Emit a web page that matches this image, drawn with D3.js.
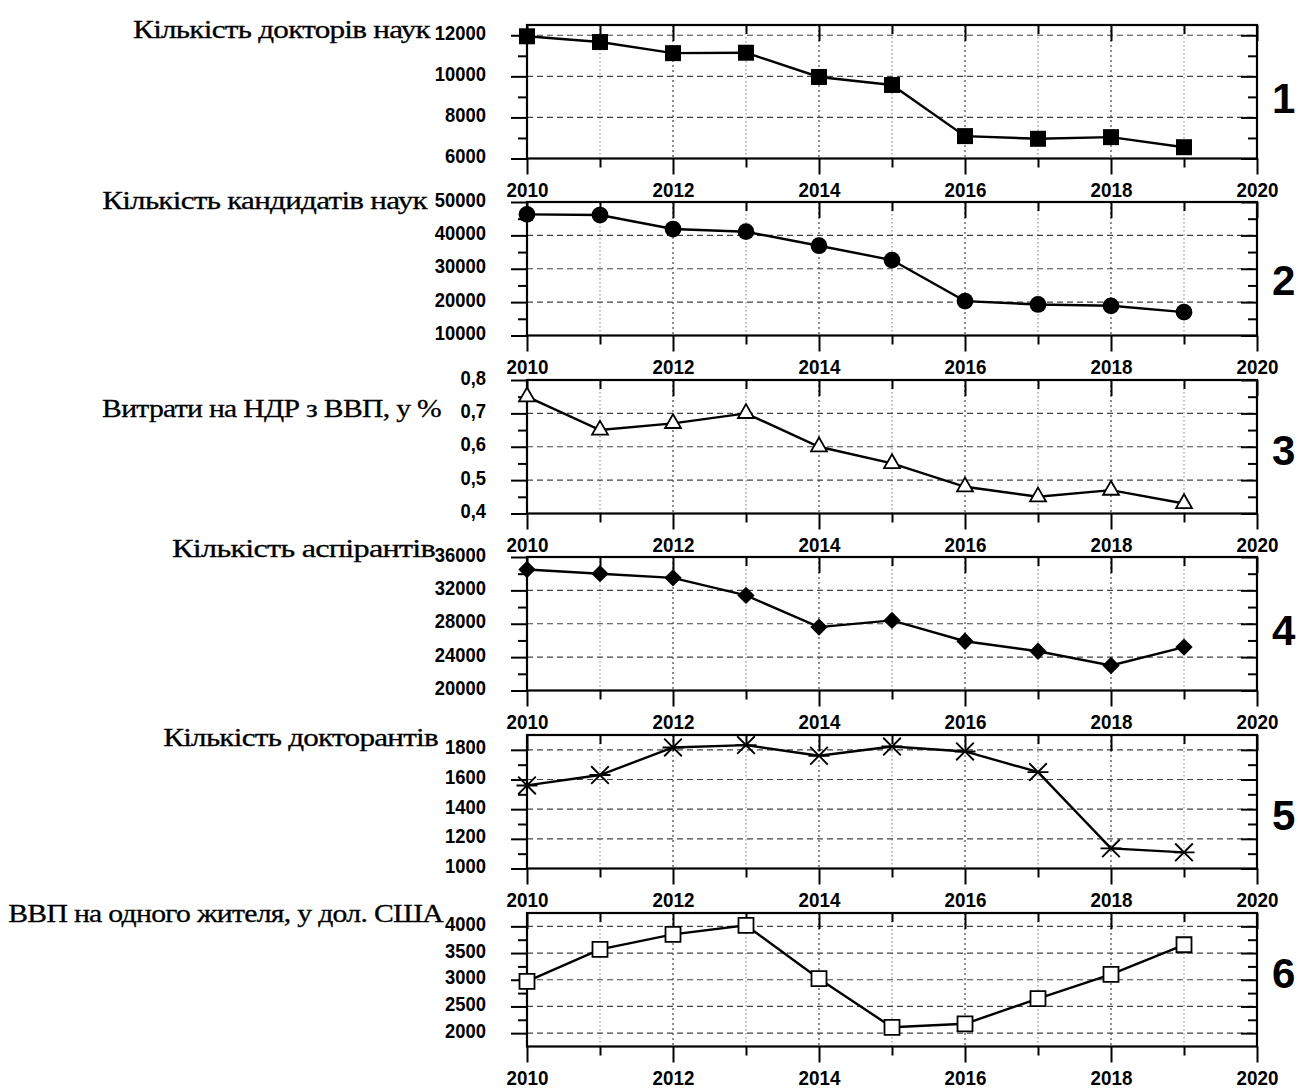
<!DOCTYPE html>
<html><head><meta charset="utf-8">
<script src="https://cdn.jsdelivr.net/npm/d3@7/dist/d3.min.js"></script>
<style>body{margin:0;background:#fff} svg{display:block;background:#fff}</style>
</head><body><svg id="c" width="1298" height="1088"></svg>
<script>
// ---------- data ----------
const years = [2010, 2011, 2012, 2013, 2014, 2015, 2016, 2017, 2018, 2019];
const doctors       = [11950, 11670, 11130, 11150, 9970, 9580, 7090, 6960, 7040, 6550];
const candidates    = [46300, 46100, 41900, 41100, 36900, 32600, 20300, 19300, 18900, 17000];
const rdShare       = [0.75, 0.65, 0.67, 0.70, 0.60, 0.55, 0.48, 0.45, 0.47, 0.43];
const postgrads     = [34500, 34000, 33500, 31400, 27600, 28400, 25900, 24700, 23000, 25200];
const doctoralStud  = [1560, 1630, 1816, 1832, 1760, 1822, 1789, 1650, 1136, 1109];
const gdpPerCapita  = [2970, 3570, 3850, 4020, 3020, 2110, 2175, 2645, 3100, 3655];

const xTickLabels = [2010, 2012, 2014, 2016, 2018, 2020];
const xMinorTicks = [2011, 2013, 2015, 2017, 2019];
const xDomain = [2010, 2020];

const titles = [
  "Кількість докторів наук",
  "Кількість кандидатів наук",
  "Витрати на НДР з ВВП, у %",
  "Кількість аспірантів",
  "Кількість докторантів",
  "ВВП на одного жителя, у дол. США"
];
const panelNumbers = ["1", "2", "3", "4", "5", "6"];
const seriesValues = [doctors, candidates, rdShare, postgrads, doctoralStud, gdpPerCapita];
const yDomains = [[6000, 12500], [10000, 50000], [0.4, 0.8], [20000, 36000], [1000, 1900], [1750, 4250]];
const yMajorTicks = [
  [6000, 8000, 10000, 12000],
  [10000, 20000, 30000, 40000, 50000],
  [0.4, 0.5, 0.6, 0.7, 0.8],
  [20000, 24000, 28000, 32000, 36000],
  [1000, 1200, 1400, 1600, 1800],
  [2000, 2500, 3000, 3500, 4000]
];
const yMinorTicks = [
  [7000, 9000, 11000],
  [15000, 25000, 35000, 45000],
  [0.45, 0.55, 0.65, 0.75],
  [22000, 26000, 30000, 34000],
  [1100, 1300, 1500, 1700],
  [2250, 2750, 3250, 3750]
];
const markerKinds = ["square", "circle", "triangle", "diamond", "asterisk", "openSquare"];

// ---------- layout ----------
const plotLeft = 527, plotRight = 1257, panelH = 133.5;
const panelTops = [25, 202, 380, 557, 735, 913];
const titleStart = [133, 102, 102, 172, 163, 8];
const titleEnd = [430, 427, 441, 435, 438, 443];
const titleBase = [38, 209, 417, 557, 746, 922];
const numBase = [113, 295, 465, 645, 830, 988];
const MAJ = 16, MIN = 9;
const tickFont = "'Liberation Sans', Arial, sans-serif";

const svg = d3.select("#c");
svg.append("rect").attr("width", 1298).attr("height", 1088).attr("fill", "#fff");

const x = d3.scaleLinear().domain(xDomain).range([plotLeft, plotRight]);

function fmt(v) {
  if (v < 1) return d3.format(".1f")(v).replace(".", ",");
  return String(v);
}

function asteriskPath(s) {
  const h = s / 2, d = s * 0.42;
  return `M${-h},0L${h},0M${-d},${-d}L${d},${d}M${-d},${d}L${d},${-d}`;
}

function squeeze(sel, k) {
  sel.each(function () {
    const len = this.getComputedTextLength();
    d3.select(this).attr("textLength", len * k).attr("lengthAdjust", "spacingAndGlyphs");
  });
}

seriesValues.forEach((vals, i) => {
  const top = panelTops[i], bottom = top + panelH;
  const y = d3.scaleLinear().domain(yDomains[i]).range([bottom, top]);
  const g = svg.append("g");

  // grid: vertical dotted at every year
  const gridYears = d3.range(xDomain[0] + 1, xDomain[1]);
  g.selectAll(".vg").data(gridYears).join("line")
    .attr("x1", d => x(d)).attr("x2", d => x(d))
    .attr("y1", top).attr("y2", bottom)
    .attr("stroke", d => d % 2 === 0 ? "#333" : "#888")
    .attr("stroke-width", 1.1)
    .attr("stroke-dasharray", d => d % 2 === 0 ? "2,3" : "1.5,2.5");
  // grid: horizontal dashed at major values
  const hg = yMajorTicks[i].filter(v => y(v) > top + 1 && y(v) < bottom - 1);
  g.selectAll(".hg").data(hg).join("line")
    .attr("x1", plotLeft).attr("x2", plotRight)
    .attr("y1", d => y(d)).attr("y2", d => y(d))
    .attr("stroke", "#444").attr("stroke-width", 1.2)
    .attr("stroke-dasharray", "6,4");

  // axes
  const styleAxis = sel => {
    sel.select(".domain").remove();
    sel.selectAll("line").attr("stroke", "#000").attr("stroke-width", 2);
  };
  // bottom (outward), with labels
  g.append("g").attr("transform", `translate(0,${bottom})`)
    .call(d3.axisBottom(x).tickValues(xTickLabels).tickSize(MAJ).tickFormat(d3.format("d")))
    .call(styleAxis)
    .call(s => s.selectAll("text").attr("y", 38).attr("dy", 0)
      .attr("font-family", tickFont).attr("font-weight", "bold").attr("font-size", 20).attr("fill", "#000"))
    .call(s => squeeze(s.selectAll("text"), 0.94));
  g.append("g").attr("transform", `translate(0,${bottom})`)
    .call(d3.axisBottom(x).tickValues(xMinorTicks).tickSize(MIN).tickFormat(""))
    .call(styleAxis);
  // top (inward)
  g.append("g").attr("transform", `translate(0,${top})`)
    .call(d3.axisBottom(x).tickValues(xTickLabels).tickSize(MAJ).tickFormat(""))
    .call(styleAxis);
  g.append("g").attr("transform", `translate(0,${top})`)
    .call(d3.axisBottom(x).tickValues(xMinorTicks).tickSize(MIN).tickFormat(""))
    .call(styleAxis);
  // left (outward) with labels
  g.append("g").attr("transform", `translate(${plotLeft},0)`)
    .call(d3.axisLeft(y).tickValues(yMajorTicks[i]).tickSize(MAJ).tickPadding(25).tickFormat(fmt))
    .call(styleAxis)
    .call(s => s.selectAll("text").attr("dy", "0.2em")
      .attr("font-family", tickFont).attr("font-weight", "bold").attr("font-size", 20).attr("fill", "#000"))
    .call(s => squeeze(s.selectAll("text"), 0.92));
  g.append("g").attr("transform", `translate(${plotLeft},0)`)
    .call(d3.axisLeft(y).tickValues(yMinorTicks[i]).tickSize(MIN).tickFormat(""))
    .call(styleAxis);
  // right (inward)
  g.append("g").attr("transform", `translate(${plotRight},0)`)
    .call(d3.axisLeft(y).tickValues(yMajorTicks[i]).tickSize(MAJ).tickFormat(""))
    .call(styleAxis);
  g.append("g").attr("transform", `translate(${plotRight},0)`)
    .call(d3.axisLeft(y).tickValues(yMinorTicks[i]).tickSize(MIN).tickFormat(""))
    .call(styleAxis);

  // frame
  g.append("rect").attr("x", plotLeft).attr("y", top)
    .attr("width", plotRight - plotLeft).attr("height", panelH)
    .attr("fill", "none").attr("stroke", "#000").attr("stroke-width", 2.2);

  // line
  const pts = years.map((yr, k) => [yr, vals[k]]);
  g.append("path").datum(pts)
    .attr("d", d3.line().x(d => x(d[0])).y(d => y(d[1])))
    .attr("fill", "none").attr("stroke", "#000").attr("stroke-width", 2.4);

  // markers
  const kind = markerKinds[i];
  const mk = g.selectAll(".mk").data(pts).join("path")
    .attr("transform", d => `translate(${x(d[0])},${y(d[1])})`);
  if (kind === "square") {
    mk.attr("d", d3.symbol(d3.symbolSquare, 256)()).attr("fill", "#000");
  } else if (kind === "circle") {
    mk.attr("d", d3.symbol(d3.symbolCircle, 220)()).attr("fill", "#000");
  } else if (kind === "triangle") {
    mk.attr("d", d3.symbol(d3.symbolTriangle, 110)()).attr("fill", "#fff")
      .attr("stroke", "#000").attr("stroke-width", 1.8);
  } else if (kind === "diamond") {
    mk.attr("d", d3.symbol(d3.symbolSquare, 150)()).attr("fill", "#000")
      .attr("transform", d => `translate(${x(d[0])},${y(d[1])}) rotate(45)`);
  } else if (kind === "asterisk") {
    mk.attr("d", asteriskPath(21)).attr("fill", "none")
      .attr("stroke", "#000").attr("stroke-width", 1.9);
  } else {
    mk.attr("d", d3.symbol(d3.symbolSquare, 225)()).attr("fill", "#fff")
      .attr("stroke", "#000").attr("stroke-width", 1.8);
  }

  // title (widened, slightly tight serif text, as in the reference)
  const t = svg.append("text")
    .attr("x", 0).attr("y", 0)
    .attr("text-anchor", "end")
    .attr("font-family", "'Liberation Serif', 'Times New Roman', serif")
    .attr("font-size", 25.5).attr("letter-spacing", -0.6)
    .attr("fill", "#000").attr("stroke", "#000").attr("stroke-width", 0.3)
    .text(titles[i]);
  const natural = t.node().getComputedTextLength();
  const k = (titleEnd[i] - titleStart[i]) / natural;
  t.attr("transform", `translate(${titleEnd[i]},${titleBase[i]}) scale(${k},1)`);

  // panel number
  svg.append("text").attr("x", 1272).attr("y", numBase[i])
    .attr("font-family", tickFont).attr("font-weight", "bold")
    .attr("font-size", 42).attr("fill", "#000")
    .text(panelNumbers[i]);
});
</script>
</body></html>
